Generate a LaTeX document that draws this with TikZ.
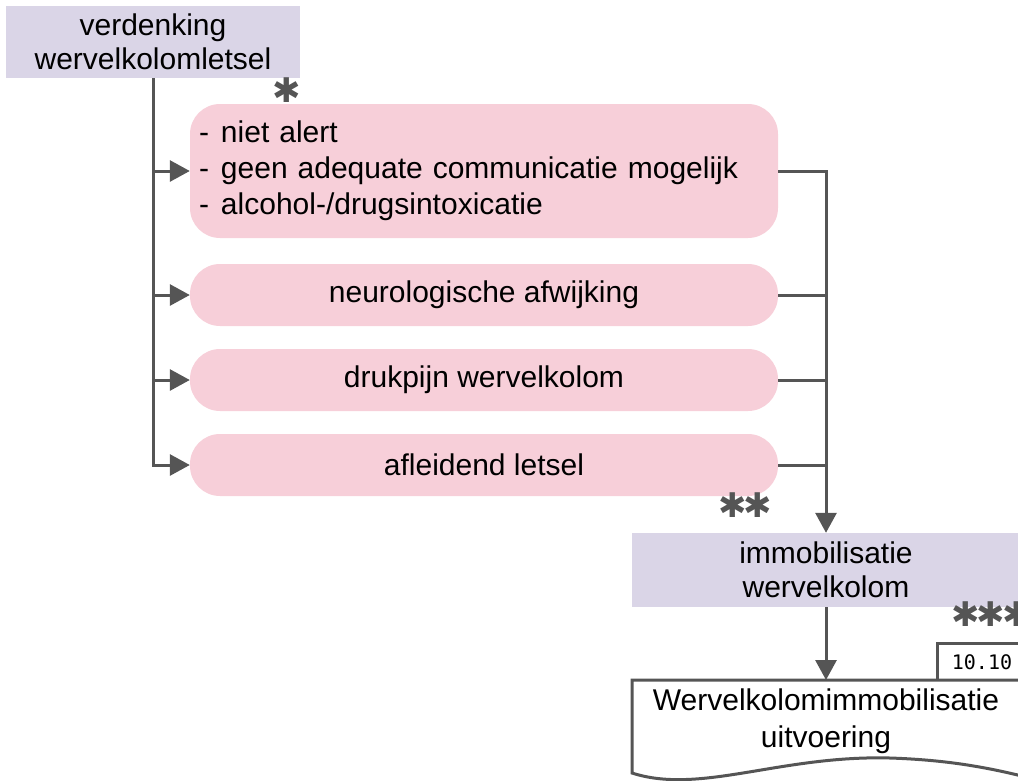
\documentclass[tikz,border=0pt]{standalone}
\usepackage{fontspec}
\setmainfont{Liberation Sans}
\newfontfamily\starfont{DejaVu Sans}
\newfontfamily\codefont{DejaVu Sans Mono}
\usepackage{xcolor}
\usetikzlibrary{arrows.meta}
\definecolor{lav}{HTML}{DAD5E7}
\definecolor{rose}{HTML}{F7CFD9}
\definecolor{ink}{HTML}{555555}
\tikzset{
  lavbox/.style={fill=lav, inner sep=0pt, align=center, font=\fontsize{30}{34}\selectfont},
  critbox/.style={fill=rose, rounded corners=30pt, inner sep=0pt, minimum width=588pt,
    minimum height=62pt, align=center, font=\fontsize{30}{36}\selectfont},
  wire/.style={draw=ink, line width=3pt},
  conn/.style={wire, -{Triangle[length=20pt,width=21pt]}},
  stars/.style={text=ink, inner sep=0pt, font=\starfont\fontsize{34}{34}\selectfont}
}
\begin{document}
\begin{tikzpicture}[x=1pt,y=-1pt]
\useasboundingbox (0,0) rectangle (1018,780);
\node[lavbox, minimum width=294pt, minimum height=72pt] (susp) at (153,42) {verdenking\\wervelkolomletsel};
\node[stars] (s1) at (287,90) {✱};
\node[critbox, minimum height=134pt, text width=570pt, align=left, inner xsep=9pt] (crit1) at (484,171)
  {\makebox[22pt][l]{-}niet alert\\ \makebox[22pt][l]{-}geen adequate communicatie mogelijk\\ \makebox[22pt][l]{-}alcohol-/drugsintoxicatie};
\node[critbox] (crit2) at (484,295) {neurologische afwijking};
\node[critbox] (crit3) at (484,380) {drukpijn wervelkolom};
\node[critbox] (crit4) at (484,465) {afleidend letsel};
\node[stars] (s2) at (745,505) {✱\kern-3pt✱};
\node[lavbox, minimum width=388pt, minimum height=74pt] (immob) at (826,570) {immobilisatie\\wervelkolom};
\node[stars, anchor=west] (s3) at (951,614) {✱\kern-3pt✱\kern-3pt✱};
\draw[wire, fill=white] (937,680) -- (937,643) -- (1030,643) -- (1030,680);
\node[inner sep=0pt, font=\codefont\fontsize{20}{20}\selectfont] (ref) at (982,662) {10.10};
\draw[wire, fill=white] (1030,680) -- (632,680) -- (632,773)
  .. controls (700,795) and (780,755) .. (890,758)
  .. controls (950,760) and (990,768) .. (1030,778);
\coordinate (doctop) at (826,680);
\node[inner sep=0pt, align=center, font=\fontsize{30}{37}\selectfont] (exec) at (826,721) {Wervelkolomimmobilisatie\\uitvoering};
\draw[conn] (susp.south) |- (crit1.west);
\draw[conn] (susp.south) |- (crit2.west);
\draw[conn] (susp.south) |- (crit3.west);
\draw[conn] (susp.south) |- (crit4.west);
\draw[conn] (crit1.east) -| (immob.north);
\draw[wire] (crit2.east) -- (crit2.east -| immob.north);
\draw[wire] (crit3.east) -- (crit3.east -| immob.north);
\draw[wire] (crit4.east) -- (crit4.east -| immob.north);
\draw[conn] (immob.south) -- (doctop);
\end{tikzpicture}
\end{document}
